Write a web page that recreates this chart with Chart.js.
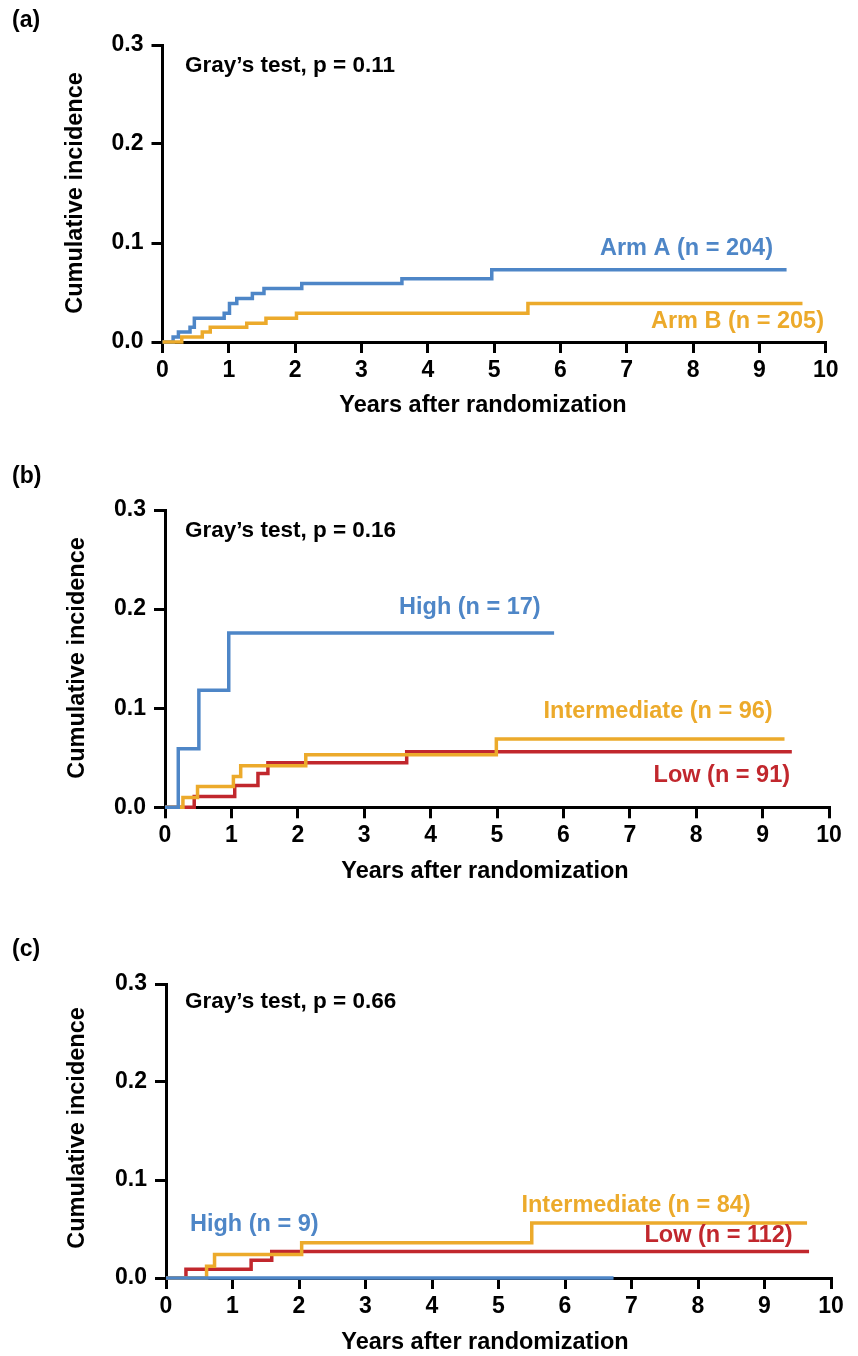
<!DOCTYPE html>
<html><head><meta charset="utf-8">
<script src="https://cdn.jsdelivr.net/npm/chart.js@4.4.1/dist/chart.umd.min.js"></script>
<style>
html,body{margin:0;padding:0;background:#fff;}
body{width:858px;height:1356px;position:relative;overflow:hidden;}
canvas{position:absolute;left:0;}
</style></head><body>
<canvas id="ca" width="858" height="445" style="top:0px"></canvas>
<canvas id="cb" width="858" height="465" style="top:455px"></canvas>
<canvas id="cc" width="858" height="431" style="top:925px"></canvas>
<script>
// ---- tick labels ----
const xTickValues = [0,1,2,3,4,5,6,7,8,9,10];
const yTickValues = [0,0.1,0.2,0.3];
const xAxisTitle = "Years after randomization";
const yAxisTitle = "Cumulative incidence";

// ---- Panel (a) ----
const armATimes  = [0,0.16,0.24,0.415,0.48,0.93,1.01,1.12,1.355,1.53,2.10,3.61,4.965,9.41];
const armAValues = [0,0.005,0.010,0.015,0.024,0.029,0.039,0.044,0.049,0.054,0.059,0.064,0.073,0.073];
const armBTimes  = [0,0.29,0.60,0.72,1.27,1.56,2.02,5.51,9.65];
const armBValues = [0,0.005,0.010,0.015,0.019,0.024,0.029,0.039,0.039];

// ---- Panel (b) ----
const bHighTimes  = [0,0.20,0.51,0.96,5.86];
const bHighValues = [0,0.059,0.118,0.176,0.176];
const bIntTimes   = [0,0.27,0.49,1.03,1.14,2.12,4.99,9.33];
const bIntValues  = [0,0.010,0.021,0.031,0.042,0.053,0.069,0.069];
const bLowTimes   = [0,0.44,1.05,1.40,1.55,3.64,9.44];
const bLowValues  = [0,0.011,0.022,0.034,0.045,0.056,0.056];

// ---- Panel (c) ----
const cHighTimes  = [0,6.73];
const cHighValues = [0,0];
const cIntTimes   = [0,0.61,0.73,2.04,5.50,9.64];
const cIntValues  = [0,0.012,0.024,0.036,0.056,0.056];
const cLowTimes   = [0,0.30,1.28,1.59,9.67];
const cLowValues  = [0,0.009,0.018,0.027,0.027];

const BLUE = '#4E86C7', ORANGE = '#ECAA2B', RED = '#C1272D';
const FONT = "'Liberation Sans', Arial, Helvetica, sans-serif";
const W = 858;

function series(times, vals, color, order) {
  return {
    data: times.map((t, i) => ({x: t, y: vals[i]})),
    borderColor: color, backgroundColor: color, borderWidth: 3.5,
    pointRadius: 0, stepped: 'before', fill: false, clip: 8, order: order,
    borderCapStyle: 'butt', borderJoinStyle: 'miter'
  };
}

const textPlugin = {
  id: 'texts',
  afterDraw(chart) {
    const ctx = chart.ctx;
    const cfg = chart.options.plugins.texts;
    const xs = chart.scales.x, ys = chart.scales.y;
    ctx.save();
    ctx.textBaseline = 'middle';
    for (const t of cfg.items) {
      ctx.font = 'bold ' + (t.size || 23.5) + 'px ' + FONT;
      ctx.fillStyle = t.color || '#000';
      ctx.textAlign = t.align || 'left';
      const px = t.data ? xs.getPixelForValue(t.x) : t.x;
      const py = t.data ? ys.getPixelForValue(t.y) : t.y;
      if (t.rotate) {
        ctx.save();
        ctx.translate(px, py);
        ctx.rotate(-Math.PI / 2);
        ctx.textAlign = 'center';
        ctx.fillText(t.text, 0, 0);
        ctx.restore();
      } else {
        ctx.fillText(t.text, px, py);
      }
    }
    ctx.restore();
  }
};

function makePanel(id, area, datasets, items) {
  const canvas = document.getElementById(id);
  const H = canvas.height;
  const tickFont = {family: FONT, size: 23, weight: 'bold'};
  const grid = {display: true, drawOnChartArea: false, drawTicks: true, tickLength: 11,
                tickWidth: 3, tickColor: '#000', lineWidth: 3, color: '#000'};
  new Chart(canvas, {
    type: 'line',
    data: {datasets: datasets},
    options: {
      responsive: false, animation: false, events: [],
      layout: {padding: {left: 0, top: area.top, right: W - area.right, bottom: 0}},
      plugins: {legend: {display: false}, tooltip: {enabled: false}, texts: {items: items}},
      scales: {
        x: {
          type: 'linear', min: 0, max: 10,
          afterBuildTicks: s => { s.ticks = xTickValues.map(v => ({value: v})); },
          ticks: {color: '#000', font: tickFont, padding: 4, maxRotation: 0, autoSkip: false,
                  callback: v => String(v)},
          grid: grid,
          border: {display: true, color: '#000', width: 3},
          afterFit: s => { s.height = H - area.bottom; }
        },
        y: {
          type: 'linear', min: 0, max: 0.3,
          afterBuildTicks: s => { s.ticks = yTickValues.map(v => ({value: v})); },
          ticks: {color: '#000', font: tickFont, padding: 8, callback: v => Number(v).toFixed(1)},
          grid: grid,
          border: {display: true, color: '#000', width: 3},
          afterFit: s => { s.width = area.left; }
        }
      }
    },
    plugins: [textPlugin]
  });
}

makePanel('ca', {left: 162.5, right: 825.7, top: 45, bottom: 342},
  [series(armATimes, armAValues, BLUE, 2), series(armBTimes, armBValues, ORANGE, 1)],
  [
    {text: '(a)', x: 12, y: 21, size: 23},
    {text: yAxisTitle, x: 76, y: 193, rotate: true},
    {text: xAxisTitle, x: 483, y: 406, align: 'center'},
    {text: 'Gray’s test, p = 0.11', x: 0.34, y: 0.279, data: true, size: 22.5},
    {text: 'Arm A (n = 204)', x: 9.205, y: 0.094, data: true, align: 'right', color: BLUE},
    {text: 'Arm B (n = 205)', x: 9.974, y: 0.021, data: true, align: 'right', color: ORANGE}
  ]);

makePanel('cb', {left: 165, right: 829, top: 55, bottom: 352.3},
  [series(bHighTimes, bHighValues, BLUE, 1), series(bIntTimes, bIntValues, ORANGE, 2), series(bLowTimes, bLowValues, RED, 3)],
  [
    {text: '(b)', x: 12, y: 22, size: 23},
    {text: yAxisTitle, x: 78, y: 203, rotate: true},
    {text: xAxisTitle, x: 485, y: 417, align: 'center'},
    {text: 'Gray’s test, p = 0.16', x: 0.30, y: 0.279, data: true, size: 22.5},
    {text: 'High (n = 17)', x: 5.658, y: 0.202, data: true, align: 'right', color: BLUE},
    {text: 'Intermediate (n = 96)', x: 9.152, y: 0.097, data: true, align: 'right', color: ORANGE},
    {text: 'Low (n = 91)', x: 9.413, y: 0.032, data: true, align: 'right', color: RED}
  ]);

makePanel('cc', {left: 166, right: 831, top: 59, bottom: 353},
  [series(cHighTimes, cHighValues, BLUE, 1), series(cIntTimes, cIntValues, ORANGE, 2), series(cLowTimes, cLowValues, RED, 3)],
  [
    {text: '(c)', x: 12, y: 25, size: 23},
    {text: yAxisTitle, x: 78, y: 203, rotate: true},
    {text: xAxisTitle, x: 485, y: 418, align: 'center'},
    {text: 'Gray’s test, p = 0.66', x: 0.286, y: 0.282, data: true, size: 22.5},
    {text: 'High (n = 9)', x: 0.361, y: 0.055, data: true, align: 'left', color: BLUE},
    {text: 'Intermediate (n = 84)', x: 8.792, y: 0.074, data: true, align: 'right', color: ORANGE},
    {text: 'Low (n = 112)', x: 9.424, y: 0.043, data: true, align: 'right', color: RED}
  ]);
</script>
</body></html>
